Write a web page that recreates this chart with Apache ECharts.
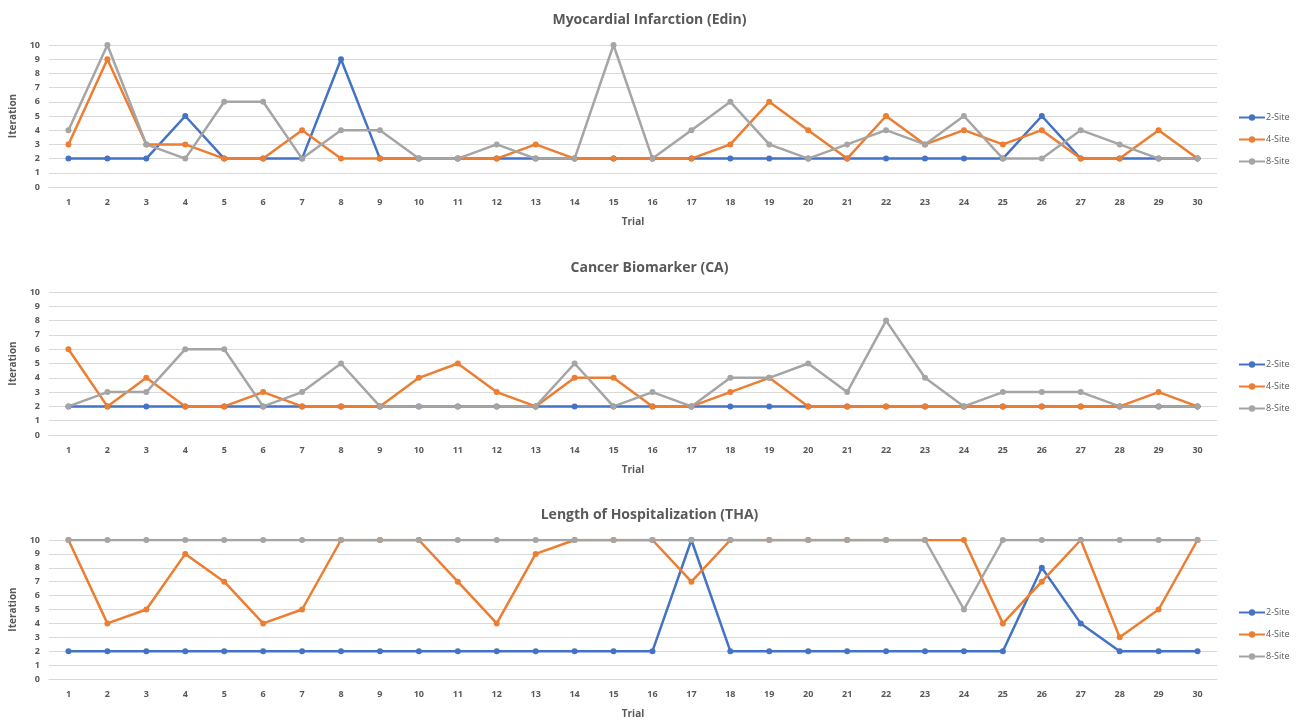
<!DOCTYPE html>
<html>
<head>
<meta charset="utf-8">
<script src="https://cdn.jsdelivr.net/npm/echarts@6/dist/echarts.min.js"></script>
<style>
  html, body { margin: 0; padding: 0; background: #fff; }
  #main { width: 1299px; height: 720px; }
</style>
</head>
<body>
<div id="main"></div>
<script>
var trials = [];
for (var t = 1; t <= 30; t++) trials.push(String(t));

var seriesNames = ['2-Site', '4-Site', '8-Site'];
var colors = ['#4472C4', '#ED7D31', '#A5A5A5'];

var panelTitles = ['Myocardial Infarction (Edin)', 'Cancer Biomarker (CA)', 'Length of Hospitalization (THA)'];

// Myocardial Infarction (Edin)
var edin2 = [2,2,2,5,2,2,2,9,2,2,2,2,2,2,2,2,2,2,2,2,2,2,2,2,2,5,2,2,2,2];
var edin4 = [3,9,3,3,2,2,4,2,2,2,2,2,3,2,2,2,2,3,6,4,2,5,3,4,3,4,2,2,4,2];
var edin8 = [4,10,3,2,6,6,2,4,4,2,2,3,2,2,10,2,4,6,3,2,3,4,3,5,2,2,4,3,2,2];

// Cancer Biomarker (CA)
var ca2 = [2,2,2,2,2,2,2,2,2,2,2,2,2,2,2,2,2,2,2,2,2,2,2,2,2,2,2,2,2,2];
var ca4 = [6,2,4,2,2,3,2,2,2,4,5,3,2,4,4,2,2,3,4,2,2,2,2,2,2,2,2,2,3,2];
var ca8 = [2,3,3,6,6,2,3,5,2,2,2,2,2,5,2,3,2,4,4,5,3,8,4,2,3,3,3,2,2,2];

// Length of Hospitalization (THA)
var tha2 = [2,2,2,2,2,2,2,2,2,2,2,2,2,2,2,2,10,2,2,2,2,2,2,2,2,8,4,2,2,2];
var tha4 = [10,4,5,9,7,4,5,10,10,10,7,4,9,10,10,10,7,10,10,10,10,10,10,10,4,7,10,3,5,10];
var tha8 = [10,10,10,10,10,10,10,10,10,10,10,10,10,10,10,10,10,10,10,10,10,10,10,5,10,10,10,10,10,10];

var panelData = [[edin2, edin4, edin8], [ca2, ca4, ca8], [tha2, tha4, tha8]];

var textColor = '#595959';
var fontFam = '"Open Sans", "Liberation Sans", sans-serif';
var gridTops = [45, 292, 540];
var gridHeights = [142, 143, 144];
var titleTops = [8, 256, 503];

var titles = [], grids = [], xAxes = [], yAxes = [], legends = [], series = [];

for (var p = 0; p < 3; p++) {
  titles.push({
    text: panelTitles[p],
    left: 'center',
    top: titleTops[p],
    textStyle: { color: textColor, fontSize: 14, fontWeight: 'bold', fontFamily: fontFam }
  });
  grids.push({ left: 45, right: 82, top: gridTops[p], height: gridHeights[p] });
  xAxes.push({
    type: 'category',
    gridIndex: p,
    data: trials,
    name: 'Trial',
    nameLocation: 'middle',
    nameGap: 30,
    nameTextStyle: { color: textColor, fontSize: 10, fontWeight: 'bold', fontFamily: fontFam },
    axisLine: { show: true, lineStyle: { color: '#d9d9d9', width: 1 } },
    axisTick: { show: false },
    axisLabel: { color: textColor, fontSize: 9, fontWeight: 'bold', fontFamily: fontFam, margin: 11, interval: 0 }
  });
  yAxes.push({
    type: 'value',
    gridIndex: p,
    min: 0,
    max: 10,
    interval: 1,
    name: 'Iteration',
    nameLocation: 'middle',
    nameRotate: 90,
    nameGap: 31,
    nameTextStyle: { color: textColor, fontSize: 10, fontWeight: 'bold', fontFamily: fontFam },
    axisLine: { show: false },
    axisTick: { show: false },
    axisLabel: { color: textColor, fontSize: 9, fontWeight: 'bold', fontFamily: fontFam, margin: 9 },
    splitLine: { lineStyle: { color: '#d9d9d9', width: 1 } }
  });
  legends.push({
    orient: 'vertical',
    left: 1233,
    top: gridTops[p] + 63,
    itemGap: 13,
    itemWidth: 26,
    itemHeight: 8,
    data: seriesNames,
    textStyle: { color: textColor, fontSize: 9, fontFamily: fontFam, padding: [0, 0, 0, -4] }
  });
  for (var s = 0; s < 3; s++) {
    series.push({
      name: seriesNames[s],
      type: 'line',
      xAxisIndex: p,
      yAxisIndex: p,
      data: panelData[p][s],
      symbol: 'circle',
      symbolSize: 6,
      color: colors[s],
      lineStyle: { width: 2.5, color: colors[s] },
      itemStyle: { color: colors[s] },
      emphasis: { disabled: true },
      animation: false
    });
  }
}

var myChart = echarts.init(document.getElementById('main'));
var option = {
  backgroundColor: '#ffffff',
  animation: false,
  title: titles,
  grid: grids,
  xAxis: xAxes,
  yAxis: yAxes,
  legend: legends,
  series: series
};
myChart.setOption(option);
window.addEventListener('resize', function () {
  myChart.resize();
});
</script>
</body>
</html>
